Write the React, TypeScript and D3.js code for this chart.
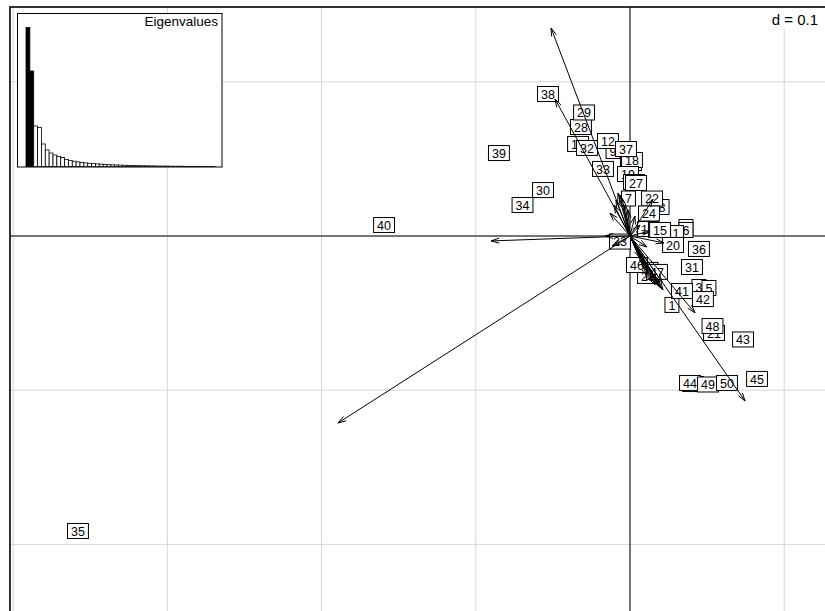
import React from "react";
import * as d3 from "d3";

// Row scores (labels) – coordinates in data units
const labelNames = Array.from({ length: 50 }, (_, i) => String(i + 1));
const labelX = [
  0.0272, 0.0136, 0.0447, 0.0363, 0.0512, 0.0363, -0.001, 0.0208, -0.011, 0.0117,
  0.0279, -0.0143, 0.0409, 0.0188, 0.0195, 0.0006, -0.0337, 0.0013, -0.0013, 0.0279,
  0.0545, 0.0143, -0.0065, 0.0123, 0.0117, 0.0026, 0.0039, -0.0318, -0.0298, -0.0564,
  0.0402, -0.0279, -0.0175, -0.0697, -0.358, 0.0447, -0.0026, -0.0532, -0.085, -0.1595,
  0.0337, 0.0473, 0.0733, 0.0389, 0.0824, 0.0045, 0.0175, 0.0535, 0.0506, 0.0629,
];
const labelY = [
  -0.0447, -0.022, -0.0331, 0.0058, -0.0337, 0.0039, 0.0243, 0.0188, 0.0551, 0.0045,
  0.0019, 0.0616, -0.096, 0.0039, 0.0039, 0.0473, 0.0597, 0.0493, 0.0402, -0.0058,
  -0.0629, 0.0243, -0.0036, 0.0146, -0.0259, 0.035, 0.0344, 0.0707, 0.0801, 0.0298,
  -0.0201, 0.0571, 0.0435, 0.0201, -0.1913, -0.0084, 0.0564, 0.0921, 0.0538, 0.0071,
  -0.0357, -0.0409, -0.0671, -0.0953, -0.0927, -0.0188, -0.0233, -0.0584, -0.0963, -0.0953,
];

// Column arrows – end coordinates in data units
const arrowX = [
  -0.0512, -0.0486, -0.1894, -0.0901, 0.0746, 0.0422, 0.022, 0.0149, 0.0201, 0.0175,
  0.0149, 0.0117, 0.0097, 0.0208, 0.0065, -0.0078, -0.0052, -0.0104, -0.0032, -0.013,
  -0.0013, 0.013, 0.011, 0.0065, -0.0117, -0.0162, 0.0032, 0.0162, 0.0188, 0.0136,
  0.011, 0.0214, 0.0091, -0.0065, -0.0091,
];
const arrowY = [
  0.1349, 0.0888, -0.1213, -0.0032, -0.107, -0.0499, -0.0045, 0.024, -0.0337, -0.0305,
  -0.0272, -0.0233, -0.0195, -0.0298, -0.0143, 0.0279, 0.0246, 0.0201, 0.0201, 0.0149,
  0.0169, 0.0032, -0.0071, 0.0071, -0.0065, 0.0, 0.013, -0.0318, -0.0324, -0.0292,
  -0.0259, -0.035, -0.0169, 0.0266, 0.0233,
];

const eigenvalues = [
  1.0, 0.687, 0.291, 0.281, 0.162, 0.119, 0.097, 0.083, 0.072, 0.065,
  0.05, 0.043, 0.038, 0.033, 0.029, 0.026, 0.023, 0.021, 0.019, 0.017,
  0.015, 0.013, 0.012, 0.011, 0.01, 0.009, 0.008, 0.007, 0.006, 0.006,
  0.005, 0.005, 0.004, 0.004, 0.003, 0.003, 0.003, 0.002, 0.002, 0.002,
  0.002, 0.001, 0.001, 0.001, 0.001, 0.001, 0.001, 0.001, 0.0005,
];
const nKeptAxes = 2;
const gridStep = 0.1;
const gridLabel = "d = 0.1";
const eigenTitle = "Eigenvalues";

export default function App() {
  const W = 825;
  const H = 611;
  const left = 10;
  const top = 7;
  const x = d3.scaleLinear().domain([0, gridStep]).range([630, 630 + 154.2]);
  const y = d3.scaleLinear().domain([0, gridStep]).range([236, 236 - 154.2]);

  const gx: number[] = [];
  for (let v = Math.ceil(x.invert(left) / gridStep) * gridStep; v <= x.invert(W + 5); v += gridStep) gx.push(v);
  const gy: number[] = [];
  for (let v = Math.floor(y.invert(top) / gridStep) * gridStep; v >= y.invert(H + 5); v -= gridStep) gy.push(v);

  const font = "'Liberation Sans', Arial, Helvetica, sans-serif";
  const fs = 12.5;
  const digitW = 6.95;

  // inset
  const ix0 = 17.5, iy0 = 13.5, ix1 = 222, iy1 = 167;
  const bx = d3.scaleBand<number>().domain(d3.range(eigenvalues.length)).range([26, 215]).padding(0);
  const by = d3.scaleLinear().domain([0, d3.max(eigenvalues) as number]).range([166.5, 27.5]);

  const headLen = 8.5;
  const headAng = (17 * Math.PI) / 180;

  return (
    <svg
      width={W}
      height={H}
      style={{ position: "absolute", left: 0, top: 0, background: "#fff" }}
      fontFamily={font}
    >
      <rect x={0} y={0} width={W} height={H} fill="#fff" />
      {/* grid */}
      <g stroke="#d6d6d6" strokeWidth={1}>
        {gx.map((v, i) => (
          <line key={"gx" + i} x1={x(v)} x2={x(v)} y1={top} y2={H + 5} />
        ))}
        {gy.map((v, i) => (
          <line key={"gy" + i} x1={left} x2={W + 5} y1={y(v)} y2={y(v)} />
        ))}
      </g>
      {/* axes through origin */}
      <g stroke="#000" strokeWidth={1}>
        <line x1={x(0)} x2={x(0)} y1={top} y2={H + 5} />
        <line x1={left} x2={W + 5} y1={y(0)} y2={y(0)} />
      </g>
      {/* labels */}
      <g>
        {labelNames.map((name, i) => {
          const cx = x(labelX[i]);
          const cy = y(labelY[i]);
          const w = name.length * digitW + 7;
          const h = 15;
          return (
            <g key={"lab" + i}>
              <rect x={cx - w / 2} y={cy - h / 2} width={w} height={h} fill="#fff" stroke="#000" strokeWidth={1} />
              <text x={cx} y={cy + 4.6} textAnchor="middle" fontSize={fs} fill="#000">
                {name}
              </text>
            </g>
          );
        })}
      </g>
      {/* arrows */}
      <g stroke="#000" strokeWidth={1} fill="none">
        {arrowX.map((ax, i) => {
          const x0 = x(0), y0 = y(0);
          const x1 = x(ax), y1 = y(arrowY[i]);
          const ang = Math.atan2(y1 - y0, x1 - x0);
          const p1 = [x1 - headLen * Math.cos(ang - headAng), y1 - headLen * Math.sin(ang - headAng)];
          const p2 = [x1 - headLen * Math.cos(ang + headAng), y1 - headLen * Math.sin(ang + headAng)];
          return (
            <g key={"ar" + i}>
              <line x1={x0} y1={y0} x2={x1} y2={y1} />
              <polyline points={`${p1[0]},${p1[1]} ${x1},${y1} ${p2[0]},${p2[1]}`} />
            </g>
          );
        })}
      </g>
      {/* d = 0.1 */}
      <rect x={764} y={top} width={W - 764 + 5} height={21} fill="#fff" />
      <text x={818} y={25} textAnchor="end" fontSize={15} fill="#000">
        {gridLabel}
      </text>
      {/* eigenvalue inset */}
      <rect x={ix0} y={iy0} width={ix1 - ix0} height={iy1 - iy0} fill="#fff" stroke="#000" strokeWidth={1} />
      <g>
        {eigenvalues.map((v, i) => (
          <rect
            key={"eb" + i}
            x={bx(i) as number}
            y={by(v)}
            width={bx.bandwidth()}
            height={by(0) - by(v)}
            fill={i < nKeptAxes ? "#000" : "#fff"}
            stroke="#000"
            strokeWidth={0.8}
          />
        ))}
      </g>
      <text x={218} y={26} textAnchor="end" fontSize={13.5} fill="#000">
        {eigenTitle}
      </text>
      {/* frame */}
      <rect x={left} y={top} width={W + 20} height={H + 20} fill="none" stroke="#000" strokeWidth={1.6} />
    </svg>
  );
}
